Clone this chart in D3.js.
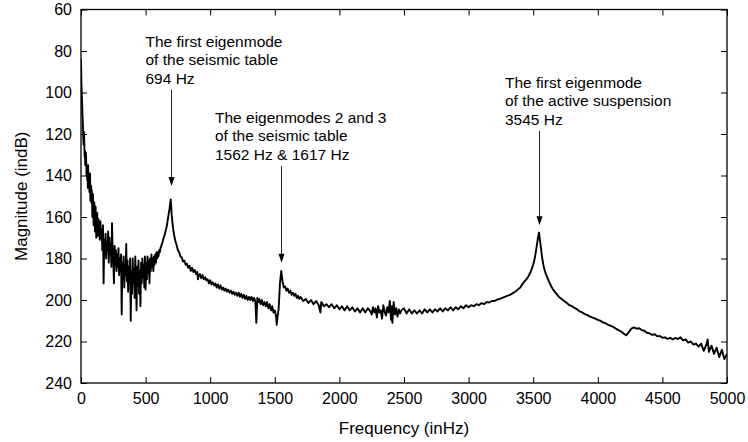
<!DOCTYPE html>
<html>
<head>
<meta charset="utf-8">
<script src="https://cdn.jsdelivr.net/npm/d3@7/dist/d3.min.js"></script>
<style>
  html, body { margin: 0; padding: 0; background: #fff; }
  svg { display: block; font-family: "Liberation Sans", Arial, Helvetica, sans-serif; }
</style>
</head>
<body>
<svg id="chart" width="748" height="442"></svg>
<script>
// ---------------- DATA ----------------
const xTicks = [0, 500, 1000, 1500, 2000, 2500, 3000, 3500, 4000, 4500, 5000];
const yTicks = [60, 80, 100, 120, 140, 160, 180, 200, 220, 240];
const xLabel = "Frequency (inHz)";
const yLabel = "Magnitude (indB)";

// spectrum segments: [frequency Hz, magnitude dB]
const lowBand = [[0,84],[3,95],[5,99],[8,104],[10,108],[13,113],[15,117],[18,122],[20,125],[23,119],[25,123],[28,131],[30,128],[33,135],[35,133],[38,129],[40,132],[43,140],[45,137],[48,142],[50,139],[53,146],[55,135],[58,143],[60,145],[63,140],[65,148],[68,143],[70,139],[73,152],[75,149],[78,145],[80,153],[83,147],[85,150],[88,160],[90,156],[93,149],[95,158],[98,164],[100,160],[103,153],[105,157],[108,167],[110,162],[113,155],[115,160],[118,170],[120,165],[125,158],[130,169],[135,161],[140,165],[145,171],[150,162],[155,170],[160,166],[165,176],[170,164],[175,192],[180,171],[185,178],[190,168],[195,180],[200,172],[205,176],[210,167],[215,182],[220,170],[225,178],[230,173],[235,184],[240,163],[245,177],[250,181],[255,192],[260,174],[265,183],[270,176],[275,186],[280,178],[285,184],[290,175],[295,188],[300,180],[305,186],[310,178],[315,207],[320,182],[325,190],[330,179],[335,194],[340,183],[345,188],[350,173],[355,191],[360,181],[365,196],[370,184],[375,192],[380,180],[385,210],[390,186],[395,197],[400,180],[405,192],[410,185],[415,199],[420,179],[425,190],[430,205],[435,184],[440,193],[445,181],[450,197],[455,186],[460,203],[465,182],[470,192],[475,180],[480,189],[485,183],[490,194],[495,179],[500,195],[505,182],[510,190],[515,179],[520,187],[525,181],[530,192],[535,180],[540,186],[545,178],[550,184],[555,180],[560,186],[565,179],[570,183],[575,178],[580,182],[585,177],[590,180],[595,177],[600,179],[605,176],[610,177],[615,175],[620,174.5],[625,173],[630,172.5],[635,171],[640,170],[645,169],[650,168],[655,166.5],[660,165.5],[665,164],[670,162],[675,160],[680,158],[685,156],[690,153.5],[694,151.5]];

const seismicBand = [[698,155],[702,159],[708,163],[714,166],[720,168.5],[730,171.5],[740,173.5],[750,176],[760,177],[770,179],[780,179.5],[790,181.5],[800,181],[810,183],[820,182.5],[830,184.5],[840,183.5],[850,186],[860,184.5],[870,186.5],[880,185.5],[890,187.5],[900,186.5],[905,190],[910,188.5],[920,187.5],[930,189.5],[940,188],[950,190],[960,189],[970,190.5],[980,190],[990,192],[1000,190.5],[1010,192.5],[1020,191.5],[1030,193],[1040,192],[1050,194],[1060,192.5],[1070,194.5],[1080,193],[1090,195],[1100,194],[1110,195.5],[1120,194.5],[1130,196],[1140,195],[1150,196.5],[1160,195.5],[1170,197],[1180,196],[1190,197.5],[1200,196.5],[1210,198],[1220,196.5],[1230,198.5],[1240,197],[1250,199],[1260,197.5],[1270,199.5],[1280,198],[1290,200],[1300,198.5],[1310,200],[1320,198.5],[1330,200.5],[1340,199],[1350,201],[1357,211],[1365,199],[1370,201],[1380,199.5],[1390,202],[1400,200],[1410,202.5],[1420,201],[1430,203],[1440,201],[1450,204],[1460,202],[1470,205],[1480,203],[1490,206],[1500,205],[1510,208],[1515,212],[1520,209],[1530,204],[1540,192],[1550,186],[1560,191],[1570,194],[1580,193.5],[1590,195.5],[1600,194.5],[1610,196.5],[1620,195.5],[1630,197.5],[1640,196.5],[1650,198],[1660,197],[1670,199],[1680,198],[1690,199.5],[1700,198.5]];

const midBand = [[1720,200.5],[1740,199.5],[1760,201.5],[1780,200],[1800,202],[1820,200.5],[1840,202.5],[1853,206],[1860,201],[1880,203],[1900,202],[1920,203.5],[1940,202],[1960,204],[1980,202.5],[2000,204.5],[2020,203],[2040,205],[2060,203],[2080,205],[2100,203.5],[2120,205.5],[2140,204],[2160,206],[2180,204],[2200,206],[2220,204],[2240,205.5],[2250,207],[2260,203.5],[2270,206],[2280,204],[2290,208.5],[2300,203],[2310,206],[2320,205],[2330,209],[2340,202.5],[2350,205.5],[2360,207.5],[2370,203.5],[2380,206],[2390,200.5],[2400,209.5],[2405,203],[2410,211],[2420,201],[2430,207],[2440,204],[2450,208],[2460,204.5],[2470,206.5],[2480,205],[2500,204],[2520,206.5],[2540,204.5],[2560,206.5],[2580,205],[2600,206.5],[2620,205],[2640,206.5],[2660,204.5],[2680,206],[2700,204.5],[2720,206],[2740,204.5],[2760,205.5],[2780,204],[2800,205.5],[2820,204],[2840,205],[2860,203.5],[2880,205],[2900,203.5],[2920,204.5],[2940,203],[2960,204],[2980,202.5],[3000,203.5]];

const suspensionBand = [[3020,202.5],[3040,203],[3060,202],[3080,202.5],[3100,201.5],[3120,202],[3140,201],[3160,201.2],[3180,200.5],[3200,200.5],[3220,199.8],[3240,199.5],[3260,199],[3280,198.5],[3300,198],[3320,197.5],[3340,196.8],[3360,196],[3380,195],[3400,194],[3420,192],[3440,190.5],[3460,189],[3480,186.5],[3500,183],[3510,180.5],[3520,177],[3530,173],[3538,169.5],[3545,167.5],[3552,171],[3560,175],[3570,180],[3580,183.5],[3590,186],[3600,187.8],[3620,190.8],[3640,193.5],[3660,195.5],[3680,197],[3700,198.5],[3720,199.5],[3740,200.5],[3760,201.5],[3780,202.5],[3800,203],[3820,203.8],[3840,204.5],[3860,205.5],[3880,206],[3900,206.8],[3920,207.3],[3940,208],[3960,208.5],[3980,209],[4000,209.6],[4020,210],[4040,210.8],[4060,211.2],[4080,212],[4100,212.5],[4120,213],[4140,213.8],[4160,214.5],[4180,215.2],[4200,216.2],[4220,217],[4240,215.5],[4260,213.8],[4280,213.2],[4300,213.8],[4320,213.6],[4340,214.5],[4360,214.8],[4380,215.8],[4400,216],[4420,216.8],[4440,216.5],[4460,217.5],[4480,217.3],[4500,218.2],[4520,218],[4540,218.8],[4560,218.2],[4580,219],[4600,218.3],[4620,218.8],[4640,218],[4660,219.5],[4680,219],[4700,220.5],[4720,220],[4740,221.5],[4760,221],[4780,222.5],[4800,221],[4820,224.5],[4840,221.5],[4850,219],[4860,225],[4880,222],[4900,226],[4920,223],[4940,227.5],[4960,224],[4980,228.5],[5000,226]];

// annotations
const annLines = [
  ["The first eigenmode", "of the seismic table", "694 Hz"],
  ["The eigenmodes 2 and 3", "of the seismic table", "1562 Hz & 1617 Hz"],
  ["The first eigenmode", "of the active suspension", "3545 Hz"]
];
const annFreq = [694, 1550, 3545];
const annArrowTipDb = [145, 182, 164];

// ---------------- LAYOUT ----------------
const M = { left: 81, right: 727, top: 9.5, bottom: 383 };
const annLayout = [
  { x: 145.5, y: 46.5 },
  { x: 215, y: 122.7 },
  { x: 505, y: 87.7 }
];
const lineGap = 18.6;

const svg = d3.select("#chart");
const x = d3.scaleLinear().domain([0, 5000]).range([M.left, M.right]);
const y = d3.scaleLinear().domain([60, 240]).range([M.top, M.bottom]);

const spectrum = lowBand.concat(seismicBand, midBand, suspensionBand);

// curve
const line = d3.line().x(d => x(d[0])).y(d => y(d[1]));
svg.append("defs").append("clipPath").attr("id", "clip")
  .append("rect").attr("x", M.left).attr("y", M.top)
  .attr("width", M.right - M.left).attr("height", M.bottom - M.top);
svg.append("path").datum(spectrum)
  .attr("clip-path", "url(#clip)")
  .attr("d", line)
  .attr("fill", "none").attr("stroke", "#000")
  .attr("stroke-width", 1.9).attr("stroke-linejoin", "round");

// axes
const tickLen = 6;
const styleAxis = g => {
  g.select(".domain").remove();
  g.selectAll(".tick line").attr("stroke", "#000").attr("stroke-width", 1);
  g.selectAll("text").attr("fill", "#000").style("font-size", "16px");
};
svg.append("g").attr("transform", `translate(0,${M.bottom})`)
  .call(d3.axisBottom(x).tickValues(xTicks).tickFormat(d3.format("d")).tickSize(-tickLen).tickPadding(10))
  .call(styleAxis);
svg.append("g").attr("transform", `translate(0,${M.top})`)
  .call(d3.axisTop(x).tickValues(xTicks).tickFormat("").tickSize(-tickLen))
  .call(styleAxis);
svg.append("g").attr("transform", `translate(${M.left},0)`)
  .call(d3.axisLeft(y).tickValues(yTicks).tickFormat(d3.format("d")).tickSize(-tickLen).tickPadding(9))
  .call(styleAxis);
svg.append("g").attr("transform", `translate(${M.right},0)`)
  .call(d3.axisRight(y).tickValues(yTicks).tickFormat("").tickSize(-tickLen))
  .call(styleAxis);

// frame
svg.append("rect")
  .attr("x", M.left).attr("y", M.top)
  .attr("width", M.right - M.left).attr("height", M.bottom - M.top)
  .attr("fill", "none").attr("stroke", "#000").attr("stroke-width", 1.3);

// axis titles
svg.append("text")
  .attr("x", (M.left + M.right) / 2).attr("y", 434)
  .attr("text-anchor", "middle").style("font-size", "17px")
  .text(xLabel);
svg.append("text")
  .attr("transform", `translate(27,${(M.top + M.bottom) / 2}) rotate(-90)`)
  .attr("text-anchor", "middle").style("font-size", "17px")
  .text(yLabel);

// annotations
annLines.forEach((lines, i) => {
  const L = annLayout[i];
  const t = svg.append("text").style("font-size", "15.5px").attr("fill", "#000");
  lines.forEach((s, j) => {
    t.append("tspan").attr("x", L.x).attr("y", L.y + j * lineGap).text(s);
  });
  const ax = Math.round(x(annFreq[i])) + 0.5;
  const yStart = L.y + (lines.length - 1) * lineGap + 6;
  const yTip = y(annArrowTipDb[i]);
  svg.append("line")
    .attr("x1", ax).attr("x2", ax).attr("y1", yStart).attr("y2", yTip - 6)
    .attr("stroke", "#222").attr("stroke-width", 1);
  svg.append("path")
    .attr("d", `M${ax - 3},${yTip - 9} L${ax + 3},${yTip - 9} L${ax},${yTip} Z`)
    .attr("fill", "#000");
});
</script>
</body>
</html>
